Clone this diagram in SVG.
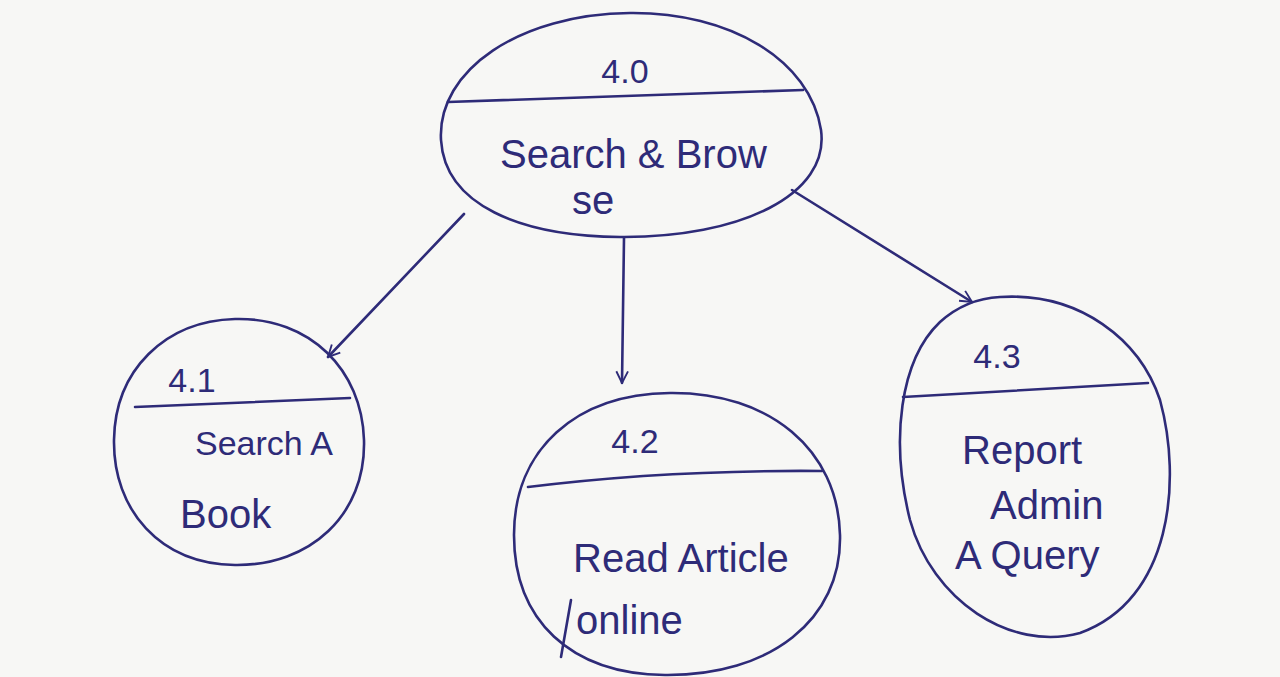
<svg xmlns="http://www.w3.org/2000/svg" width="1280" height="677" viewBox="0 0 1280 677">
<style>
.ink{fill:none;stroke:#2e2b78;stroke-width:2.6;stroke-linecap:round;stroke-linejoin:round}
.t{font-family:"Liberation Sans","DejaVu Sans",sans-serif;fill:#2e2b78;font-size:40px}
.n{font-size:34px;text-anchor:middle}
</style>
<defs>
<marker id="arr" viewBox="0 0 12 12" refX="11" refY="6" markerWidth="14" markerHeight="14" markerUnits="userSpaceOnUse" orient="auto">
<path d="M1,1 L11,6 L1,11" fill="none" stroke="#2e2b78" stroke-width="1.6"/>
</marker>
</defs>
<rect width="1280" height="677" fill="#f7f7f5"/>
<g id="connectors">
<line class="ink" x1="464" y1="214" x2="328" y2="357" marker-end="url(#arr)"/>
<line class="ink" x1="624" y1="238" x2="622" y2="383" marker-end="url(#arr)"/>
<line class="ink" x1="792" y1="190" x2="972" y2="302" marker-end="url(#arr)"/>
</g>
<g id="node-4-0">
<path class="ink" d="M630,13 C730,12 810,60 821,130 C830,195 740,238 620,237 C520,236 445,205 441,140 C437,70 520,14 630,13 Z"/>
<path class="ink" d="M448,102 L803,90"/>
<text class="t n" x="625" y="83">4.0</text>
<text class="t" x="500" y="168">Search &amp; Brow</text>
<text class="t" x="572" y="214">se</text>
</g>
<g id="node-4-1">
<path class="ink" d="M235,319 C310,317 362,370 364,440 C366,515 310,566 235,565 C160,564 113,510 114,440 C115,370 165,321 235,319 Z"/>
<path class="ink" d="M135,407 L350,398"/>
<text class="t n" x="192" y="392">4.1</text>
<text class="t" x="195" y="455" style="font-size:34px">Search A</text>
<text class="t" x="180" y="528">Book</text>
</g>
<g id="node-4-2">
<path class="ink" d="M670,393 C770,392 838,450 840,535 C842,620 770,676 665,675 C570,674 514,620 514,535 C514,450 575,394 670,393 Z"/>
<path class="ink" d="M528,487 C600,478 700,470 822,471"/>
<text class="t n" x="635" y="453">4.2</text>
<text class="t" x="573" y="572">Read Article</text>
<text class="t" x="576" y="634">online</text>
<path class="ink" d="M571,600 L561,657" stroke-width="2"/>
</g>
<g id="node-4-3">
<path class="ink" d="M1000,297 C1080,292 1140,340 1160,400 C1182,480 1172,600 1080,633 C1010,652 932,600 910,520 C890,440 900,360 940,322 C960,304 980,298 1000,297 Z"/>
<path class="ink" d="M903,397 L1148,383"/>
<text class="t n" x="997" y="368">4.3</text>
<text class="t" x="962" y="464">Report</text>
<text class="t" x="990" y="519">Admin</text>
<text class="t" x="955" y="569">A Query</text>
</g>
</svg>
